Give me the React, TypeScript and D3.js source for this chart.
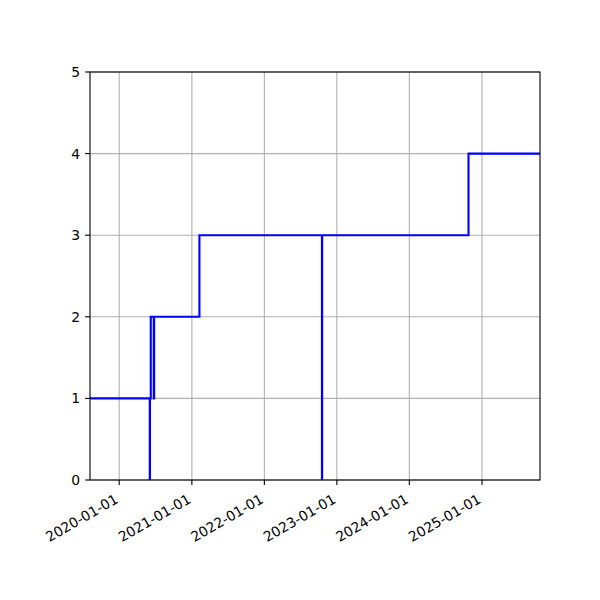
import React from "react";
import * as d3 from "d3";

const stepDates = ["2019-08-07","2020-06-03","2020-06-04","2020-06-08","2020-06-23","2020-06-25","2021-02-08","2022-10-18","2022-10-19","2024-10-25","2025-10-20"];
const stepValues = [1, 0, 1, 2, 1, 2, 3, 0, 3, 4, 4];
const xTickDates = ["2020-01-01","2021-01-01","2022-01-01","2023-01-01","2024-01-01","2025-01-01"];
const yTickValues = [0, 1, 2, 3, 4, 5];
const xDomain = ["2019-08-07", "2025-10-20"];

const parse = d3.utcParse("%Y-%m-%d");
const fmt = d3.utcFormat("%Y-%m-%d");

export default function App() {
  const W = 600, H = 600;
  const left = 90, right = 540, top = 72, bottom = 480;
  const x = d3.scaleUtc().domain(xDomain.map((d) => parse(d) as Date)).range([left, right]);
  const y = d3.scaleLinear().domain([0, 5]).range([bottom, top]);
  const pts = stepDates.map((d, i) => [x(parse(d) as Date), y(stepValues[i])] as [number, number]);
  const line = d3.line().curve(d3.curveStepAfter)(pts) || "";
  const font = "'DejaVu Sans', sans-serif";
  const fs = 13.9;
  const grid = "#b0b0b0";
  return (
    <svg width={W} height={H} style={{ position: "absolute", left: 0, top: 0, background: "#fff" }}>
      <defs>
        <clipPath id="clip">
          <rect x={left} y={top} width={right - left} height={bottom - top} />
        </clipPath>
      </defs>
      <rect x={0} y={0} width={W} height={H} fill="#fff" />
      {xTickDates.map((d) => {
        const xv = x(parse(d) as Date);
        return <line key={"gx" + d} x1={xv} x2={xv} y1={top} y2={bottom} stroke={grid} strokeWidth={1.1} />;
      })}
      {yTickValues.map((v) => (
        <line key={"gy" + v} x1={left} x2={right} y1={y(v)} y2={y(v)} stroke={grid} strokeWidth={1.1} />
      ))}
      <path d={line} fill="none" stroke="#0000ff" strokeWidth={2.1} clipPath="url(#clip)" />
      <rect x={left} y={top} width={right - left} height={bottom - top} fill="none" stroke="#000" strokeWidth={1.1} />
      {xTickDates.map((d) => {
        const xv = x(parse(d) as Date);
        return (
          <g key={"tx" + d}>
            <line x1={xv} x2={xv} y1={bottom} y2={bottom + 4.9} stroke="#000" strokeWidth={1.1} />
            <text
              x={xv}
              y={502}
              textAnchor="end"
              fontFamily={font}
              fontSize={fs}
              fill="#000"
              transform={`rotate(-30, ${xv}, 502)`}
            >
              {fmt(parse(d) as Date)}
            </text>
          </g>
        );
      })}
      {yTickValues.map((v) => (
        <g key={"ty" + v}>
          <line x1={left - 4.9} x2={left} y1={y(v)} y2={y(v)} stroke="#000" strokeWidth={1.1} />
          <text x={left - 9.8} y={y(v)} textAnchor="end" dominantBaseline="central" fontFamily={font} fontSize={fs} fill="#000">
            {v}
          </text>
        </g>
      ))}
    </svg>
  );
}
